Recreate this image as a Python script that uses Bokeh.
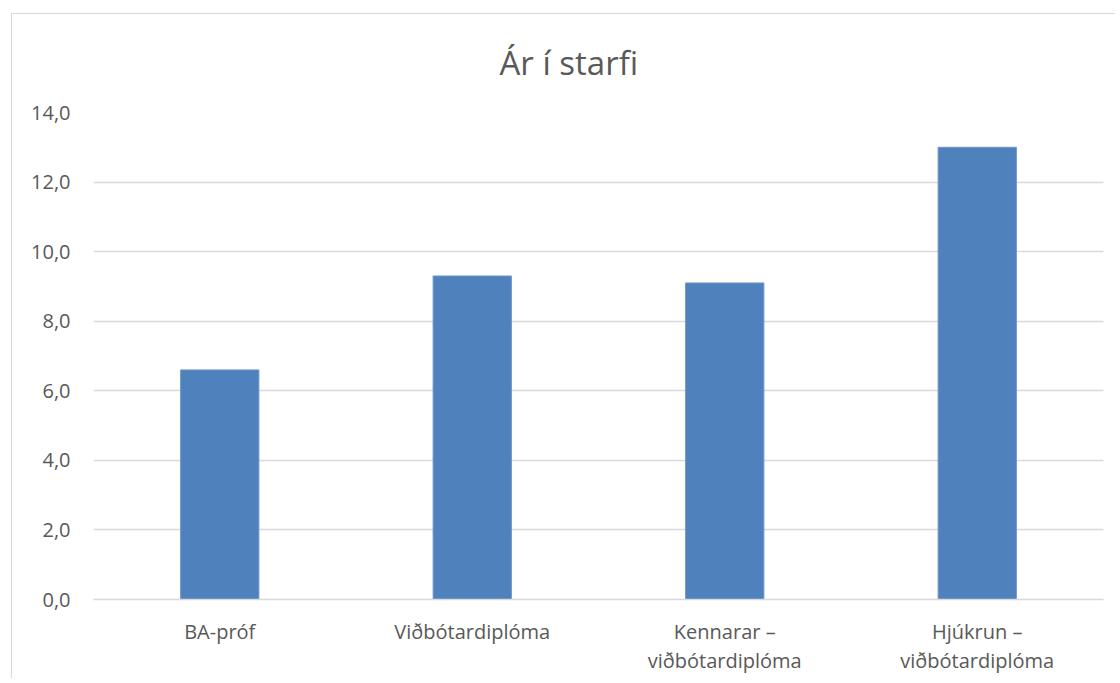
from bokeh.plotting import figure
from bokeh.models import FactorRange, Title, FixedTicker, ColumnDataSource
from bokeh.embed import file_html
from bokeh.resources import INLINE

categories = ["BA-próf", "Viðbótardiplóma", "Kennarar –\nviðbótardiplóma", "Hjúkrun –\nviðbótardiplóma"]
values = [6.6, 9.3, 9.1, 13.0]
y_ticks = [0, 2, 4, 6, 8, 10, 12, 14]
y_tick_labels = ["0,0", "2,0", "4,0", "6,0", "8,0", "10,0", "12,0", "14,0"]
title_text = "Ár í starfi"

FONT = "Open Sans"
TXT = "#595959"
GRID = "#d9d9d9"

src = ColumnDataSource(dict(cat=categories, val=values))

p = figure(
    x_range=FactorRange(*categories, range_padding=0),
    y_range=(0, 14),
    width=1104, height=665,
    output_backend="svg", toolbar_location=None,
    min_border_left=81, min_border_right=13, min_border_top=98, min_border_bottom=80,
    styles={"margin-left": "11px", "margin-top": "13px",
            "border-left": "1px solid #d9d9d9", "border-top": "1px solid #d9d9d9"},
)
p.outline_line_color = None
p.background_fill_color = "white"
p.border_fill_color = "white"

p.add_layout(Title(text=title_text, align="left", vertical_align="top", text_font=FONT,
                   text_font_size="33px", text_font_style="normal",
                   text_color=TXT, standoff=51, offset=406), "above")

p.vbar(x="cat", top="val", width=0.31, source=src,
       fill_color="#4f81bd", line_color="#6e96c9", line_width=1)

p.xgrid.grid_line_color = None
p.ygrid.grid_line_color = GRID
p.ygrid.grid_line_width = 1.5
p.yaxis.ticker = FixedTicker(ticks=y_ticks)
p.yaxis.major_label_overrides = {t: l for t, l in zip(y_ticks, y_tick_labels)}
p.yaxis.axis_line_color = None
p.yaxis.major_tick_line_color = None
p.yaxis.minor_tick_line_color = None
p.yaxis.major_label_standoff = 17
p.yaxis.major_label_text_font = FONT
p.yaxis.major_label_text_font_size = "20px"
p.yaxis.major_label_text_color = TXT

p.xaxis.axis_line_color = GRID
p.xaxis.axis_line_width = 1.5
p.xaxis.major_tick_line_color = None
p.xaxis.minor_tick_line_color = None
p.xaxis.major_label_standoff = 12
p.xaxis.major_label_text_font = FONT
p.xaxis.major_label_text_font_size = "20px"
p.xaxis.major_label_text_color = TXT
p.xaxis.major_label_text_line_height = 1.1

open("out.html", "w").write(file_html(p, INLINE))
